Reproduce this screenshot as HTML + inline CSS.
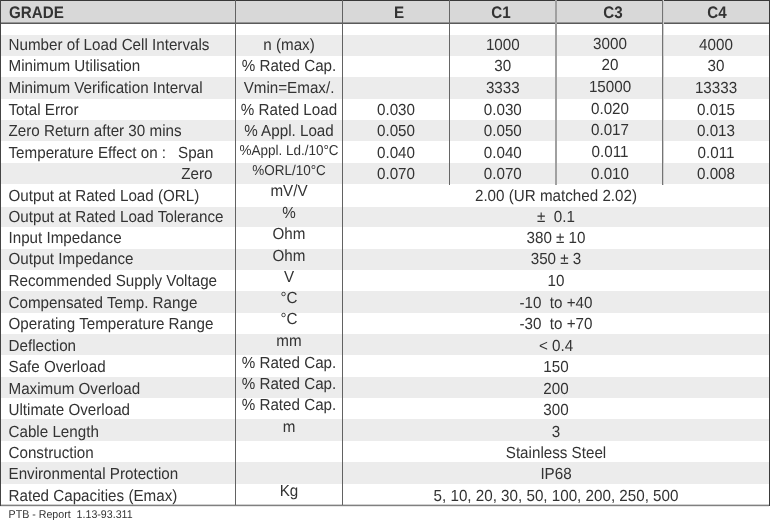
<!DOCTYPE html>
<html><head><meta charset="utf-8"><style>
html,body{margin:0;padding:0;background:#fff;}
body{width:770px;height:520px;position:relative;overflow:hidden;font-family:"Liberation Sans",sans-serif;}
#w{position:absolute;left:0;top:0;width:770px;height:520px;filter:blur(0.4px);}
div,span{position:absolute;display:block;white-space:pre;}
span{text-rendering:geometricPrecision;}
</style></head><body><div id="w">
<div style="left:1px;top:1px;width:768px;height:22px;background:#d8d8d8"></div>
<div style="left:1px;top:35px;width:768px;height:21px;background:#ececec"></div>
<div style="left:1px;top:77px;width:768px;height:22px;background:#ececec"></div>
<div style="left:1px;top:120px;width:768px;height:21px;background:#ececec"></div>
<div style="left:1px;top:163px;width:768px;height:21px;background:#ececec"></div>
<div style="left:1px;top:207px;width:768px;height:20px;background:#ececec"></div>
<div style="left:1px;top:249px;width:768px;height:21px;background:#ececec"></div>
<div style="left:1px;top:291px;width:768px;height:22px;background:#ececec"></div>
<div style="left:1px;top:334px;width:768px;height:21px;background:#ececec"></div>
<div style="left:1px;top:377px;width:768px;height:21px;background:#ececec"></div>
<div style="left:1px;top:419px;width:768px;height:22px;background:#ececec"></div>
<div style="left:1px;top:462px;width:768px;height:22px;background:#ececec"></div>
<div style="left:0px;top:0px;width:770px;height:1px;background:#383838"></div>
<div style="left:0px;top:22px;width:770px;height:1px;background:#959595"></div>
<div style="left:0px;top:23px;width:770px;height:1px;background:#5a5a5a"></div>
<div style="left:0px;top:504px;width:769px;height:1px;background:#d0d0d0"></div>
<div style="left:0px;top:505px;width:769px;height:1px;background:#808080"></div>
<div style="left:0px;top:506px;width:769px;height:1px;background:#e8e8e8"></div>
<div style="left:0px;top:0px;width:1px;height:506px;background:#444"></div>
<div style="left:769px;top:0px;width:1px;height:506px;background:#3a3a3a"></div>
<div style="left:235px;top:0px;width:1px;height:505px;background:#626262"></div>
<div style="left:342px;top:0px;width:1px;height:505px;background:#626262"></div>
<div style="left:449px;top:0px;width:1px;height:185px;background:#666"></div>
<div style="left:555px;top:0px;width:2px;height:185px;background:#a0a0a0"></div>
<div style="left:662px;top:0px;width:1px;height:185px;background:#747474"></div>
<div style="left:663px;top:0px;width:1px;height:185px;background:#cfcfcf"></div>
<span style="left:9.00px;top:4.53px;width:440px;text-align:left;font-size:15.2px;line-height:18px;font-weight:bold;will-change:transform;color:#333;transform:scaleY(1.1);transform-origin:0 14.27px;">GRADE</span>
<span style="left:178.90px;top:4.53px;width:440px;text-align:center;font-size:15.2px;line-height:18px;font-weight:bold;will-change:transform;color:#333;transform:scaleY(1.1);transform-origin:0 14.27px;">E</span>
<span style="left:281.40px;top:4.53px;width:440px;text-align:center;font-size:15.2px;line-height:18px;font-weight:bold;will-change:transform;color:#333;transform:scaleY(1.1);transform-origin:0 14.27px;">C1</span>
<span style="left:393.30px;top:4.53px;width:440px;text-align:center;font-size:15.2px;line-height:18px;font-weight:bold;will-change:transform;color:#333;transform:scaleY(1.1);transform-origin:0 14.27px;">C3</span>
<span style="left:496.60px;top:4.53px;width:440px;text-align:center;font-size:15.2px;line-height:18px;font-weight:bold;will-change:transform;color:#333;transform:scaleY(1.1);transform-origin:0 14.27px;">C4</span>
<span style="left:8.50px;top:36.93px;width:440px;text-align:left;font-size:15.2px;line-height:18px;color:#333;transform:scaleY(1.06);transform-origin:0 14.27px;">Number of Load Cell Intervals</span>
<span style="left:69.00px;top:36.93px;width:440px;text-align:center;font-size:15.2px;line-height:18px;color:#333;transform:scaleY(1.06);transform-origin:0 14.27px;">n (max)</span>
<span style="left:282.80px;top:36.93px;width:440px;text-align:center;font-size:15.2px;line-height:18px;color:#333;transform:scaleY(1.06);transform-origin:0 14.27px;">1000</span>
<span style="left:390.00px;top:35.93px;width:440px;text-align:center;font-size:15.2px;line-height:18px;color:#333;transform:scaleY(1.06);transform-origin:0 14.27px;">3000</span>
<span style="left:496.00px;top:36.93px;width:440px;text-align:center;font-size:15.2px;line-height:18px;color:#333;transform:scaleY(1.06);transform-origin:0 14.27px;">4000</span>
<span style="left:8.50px;top:57.93px;width:440px;text-align:left;font-size:15.2px;line-height:18px;color:#333;transform:scaleY(1.06);transform-origin:0 14.27px;">Minimum Utilisation</span>
<span style="left:69.00px;top:57.93px;width:440px;text-align:center;font-size:15.2px;line-height:18px;color:#333;transform:scaleY(1.06);transform-origin:0 14.27px;">% Rated Cap.</span>
<span style="left:282.80px;top:57.93px;width:440px;text-align:center;font-size:15.2px;line-height:18px;color:#333;transform:scaleY(1.06);transform-origin:0 14.27px;">30</span>
<span style="left:390.00px;top:56.93px;width:440px;text-align:center;font-size:15.2px;line-height:18px;color:#333;transform:scaleY(1.06);transform-origin:0 14.27px;">20</span>
<span style="left:496.00px;top:57.93px;width:440px;text-align:center;font-size:15.2px;line-height:18px;color:#333;transform:scaleY(1.06);transform-origin:0 14.27px;">30</span>
<span style="left:8.50px;top:79.93px;width:440px;text-align:left;font-size:15.2px;line-height:18px;color:#333;transform:scaleY(1.06);transform-origin:0 14.27px;">Minimum Verification Interval</span>
<span style="left:69.00px;top:79.93px;width:440px;text-align:center;font-size:15.2px;line-height:18px;color:#333;transform:scaleY(1.06);transform-origin:0 14.27px;">Vmin=Emax/.</span>
<span style="left:282.80px;top:79.93px;width:440px;text-align:center;font-size:15.2px;line-height:18px;color:#333;transform:scaleY(1.06);transform-origin:0 14.27px;">3333</span>
<span style="left:390.00px;top:78.93px;width:440px;text-align:center;font-size:15.2px;line-height:18px;color:#333;transform:scaleY(1.06);transform-origin:0 14.27px;">15000</span>
<span style="left:496.00px;top:79.93px;width:440px;text-align:center;font-size:15.2px;line-height:18px;color:#333;transform:scaleY(1.06);transform-origin:0 14.27px;">13333</span>
<span style="left:8.50px;top:101.93px;width:440px;text-align:left;font-size:15.2px;line-height:18px;color:#333;transform:scaleY(1.06);transform-origin:0 14.27px;">Total Error</span>
<span style="left:69.00px;top:101.93px;width:440px;text-align:center;font-size:15.2px;line-height:18px;color:#333;transform:scaleY(1.06);transform-origin:0 14.27px;">% Rated Load</span>
<span style="left:176.00px;top:101.93px;width:440px;text-align:center;font-size:15.2px;line-height:18px;color:#333;transform:scaleY(1.06);transform-origin:0 14.27px;">0.030</span>
<span style="left:282.80px;top:101.93px;width:440px;text-align:center;font-size:15.2px;line-height:18px;color:#333;transform:scaleY(1.06);transform-origin:0 14.27px;">0.030</span>
<span style="left:390.00px;top:100.93px;width:440px;text-align:center;font-size:15.2px;line-height:18px;color:#333;transform:scaleY(1.06);transform-origin:0 14.27px;">0.020</span>
<span style="left:496.00px;top:101.93px;width:440px;text-align:center;font-size:15.2px;line-height:18px;color:#333;transform:scaleY(1.06);transform-origin:0 14.27px;">0.015</span>
<span style="left:8.50px;top:122.93px;width:440px;text-align:left;font-size:15.2px;line-height:18px;color:#333;transform:scaleY(1.06);transform-origin:0 14.27px;">Zero Return after 30 mins</span>
<span style="left:69.00px;top:122.93px;width:440px;text-align:center;font-size:15.2px;line-height:18px;color:#333;transform:scaleY(1.06);transform-origin:0 14.27px;">% Appl. Load</span>
<span style="left:176.00px;top:122.93px;width:440px;text-align:center;font-size:15.2px;line-height:18px;color:#333;transform:scaleY(1.06);transform-origin:0 14.27px;">0.050</span>
<span style="left:282.80px;top:122.93px;width:440px;text-align:center;font-size:15.2px;line-height:18px;color:#333;transform:scaleY(1.06);transform-origin:0 14.27px;">0.050</span>
<span style="left:390.00px;top:121.93px;width:440px;text-align:center;font-size:15.2px;line-height:18px;color:#333;transform:scaleY(1.06);transform-origin:0 14.27px;">0.017</span>
<span style="left:496.00px;top:122.93px;width:440px;text-align:center;font-size:15.2px;line-height:18px;color:#333;transform:scaleY(1.06);transform-origin:0 14.27px;">0.013</span>
<span style="left:8.50px;top:144.93px;width:440px;text-align:left;font-size:15.2px;line-height:18px;color:#333;transform:scaleY(1.06);transform-origin:0 14.27px;">Temperature Effect on :</span>
<span style="left:69.00px;top:143.12px;width:440px;text-align:center;font-size:13.5px;line-height:16px;color:#333;transform:scaleY(1.06);transform-origin:0 12.68px;">%Appl. Ld./10°C</span>
<span style="left:176.00px;top:144.93px;width:440px;text-align:center;font-size:15.2px;line-height:18px;color:#333;transform:scaleY(1.06);transform-origin:0 14.27px;">0.040</span>
<span style="left:282.80px;top:144.93px;width:440px;text-align:center;font-size:15.2px;line-height:18px;color:#333;transform:scaleY(1.06);transform-origin:0 14.27px;">0.040</span>
<span style="left:390.00px;top:143.93px;width:440px;text-align:center;font-size:15.2px;line-height:18px;color:#333;transform:scaleY(1.06);transform-origin:0 14.27px;">0.011</span>
<span style="left:496.00px;top:144.93px;width:440px;text-align:center;font-size:15.2px;line-height:18px;color:#333;transform:scaleY(1.06);transform-origin:0 14.27px;">0.011</span>
<span style="left:69.00px;top:163.12px;width:440px;text-align:center;font-size:13.5px;line-height:16px;color:#333;transform:scaleY(1.06);transform-origin:0 12.68px;">%ORL/10°C</span>
<span style="left:176.00px;top:165.93px;width:440px;text-align:center;font-size:15.2px;line-height:18px;color:#333;transform:scaleY(1.06);transform-origin:0 14.27px;">0.070</span>
<span style="left:282.80px;top:165.93px;width:440px;text-align:center;font-size:15.2px;line-height:18px;color:#333;transform:scaleY(1.06);transform-origin:0 14.27px;">0.070</span>
<span style="left:390.00px;top:165.93px;width:440px;text-align:center;font-size:15.2px;line-height:18px;color:#333;transform:scaleY(1.06);transform-origin:0 14.27px;">0.010</span>
<span style="left:496.00px;top:165.93px;width:440px;text-align:center;font-size:15.2px;line-height:18px;color:#333;transform:scaleY(1.06);transform-origin:0 14.27px;">0.008</span>
<span style="left:8.50px;top:187.93px;width:440px;text-align:left;font-size:15.2px;line-height:18px;color:#333;transform:scaleY(1.06);transform-origin:0 14.27px;">Output at Rated Load (ORL)</span>
<span style="left:69.00px;top:182.93px;width:440px;text-align:center;font-size:15.2px;line-height:18px;color:#333;transform:scaleY(1.06);transform-origin:0 14.27px;">mV/V</span>
<span style="left:336.00px;top:187.93px;width:440px;text-align:center;font-size:15.2px;line-height:18px;color:#333;transform:scaleY(1.06);transform-origin:0 14.27px;">2.00 (UR matched 2.02)</span>
<span style="left:8.50px;top:208.93px;width:440px;text-align:left;font-size:15.2px;line-height:18px;color:#333;transform:scaleY(1.06);transform-origin:0 14.27px;">Output at Rated Load Tolerance</span>
<span style="left:69.00px;top:204.93px;width:440px;text-align:center;font-size:15.2px;line-height:18px;color:#333;transform:scaleY(1.06);transform-origin:0 14.27px;">%</span>
<span style="left:336.00px;top:208.93px;width:440px;text-align:center;font-size:15.2px;line-height:18px;color:#333;transform:scaleY(1.06);transform-origin:0 14.27px;">±  0.1</span>
<span style="left:8.50px;top:229.93px;width:440px;text-align:left;font-size:15.2px;line-height:18px;color:#333;transform:scaleY(1.06);transform-origin:0 14.27px;">Input Impedance</span>
<span style="left:69.00px;top:225.93px;width:440px;text-align:center;font-size:15.2px;line-height:18px;color:#333;transform:scaleY(1.06);transform-origin:0 14.27px;">Ohm</span>
<span style="left:336.00px;top:229.93px;width:440px;text-align:center;font-size:15.2px;line-height:18px;color:#333;transform:scaleY(1.06);transform-origin:0 14.27px;">380 ± 10</span>
<span style="left:8.50px;top:250.93px;width:440px;text-align:left;font-size:15.2px;line-height:18px;color:#333;transform:scaleY(1.06);transform-origin:0 14.27px;">Output Impedance</span>
<span style="left:69.00px;top:247.93px;width:440px;text-align:center;font-size:15.2px;line-height:18px;color:#333;transform:scaleY(1.06);transform-origin:0 14.27px;">Ohm</span>
<span style="left:336.00px;top:250.93px;width:440px;text-align:center;font-size:15.2px;line-height:18px;color:#333;transform:scaleY(1.06);transform-origin:0 14.27px;">350 ± 3</span>
<span style="left:8.50px;top:272.93px;width:440px;text-align:left;font-size:15.2px;line-height:18px;color:#333;transform:scaleY(1.06);transform-origin:0 14.27px;">Recommended Supply Voltage</span>
<span style="left:69.00px;top:268.93px;width:440px;text-align:center;font-size:15.2px;line-height:18px;color:#333;transform:scaleY(1.06);transform-origin:0 14.27px;">V</span>
<span style="left:336.00px;top:272.93px;width:440px;text-align:center;font-size:15.2px;line-height:18px;color:#333;transform:scaleY(1.06);transform-origin:0 14.27px;">10</span>
<span style="left:8.50px;top:294.93px;width:440px;text-align:left;font-size:15.2px;line-height:18px;color:#333;transform:scaleY(1.06);transform-origin:0 14.27px;">Compensated Temp. Range</span>
<span style="left:69.00px;top:289.93px;width:440px;text-align:center;font-size:15.2px;line-height:18px;color:#333;transform:scaleY(1.06);transform-origin:0 14.27px;">°C</span>
<span style="left:336.00px;top:294.93px;width:440px;text-align:center;font-size:15.2px;line-height:18px;color:#333;transform:scaleY(1.06);transform-origin:0 14.27px;">-10  to +40</span>
<span style="left:8.50px;top:315.93px;width:440px;text-align:left;font-size:15.2px;line-height:18px;color:#333;transform:scaleY(1.06);transform-origin:0 14.27px;">Operating Temperature Range</span>
<span style="left:69.00px;top:310.93px;width:440px;text-align:center;font-size:15.2px;line-height:18px;color:#333;transform:scaleY(1.06);transform-origin:0 14.27px;">°C</span>
<span style="left:336.00px;top:315.93px;width:440px;text-align:center;font-size:15.2px;line-height:18px;color:#333;transform:scaleY(1.06);transform-origin:0 14.27px;">-30  to +70</span>
<span style="left:8.50px;top:337.93px;width:440px;text-align:left;font-size:15.2px;line-height:18px;color:#333;transform:scaleY(1.06);transform-origin:0 14.27px;">Deflection</span>
<span style="left:69.00px;top:332.93px;width:440px;text-align:center;font-size:15.2px;line-height:18px;color:#333;transform:scaleY(1.06);transform-origin:0 14.27px;">mm</span>
<span style="left:336.00px;top:337.93px;width:440px;text-align:center;font-size:15.2px;line-height:18px;color:#333;transform:scaleY(1.06);transform-origin:0 14.27px;">< 0.4</span>
<span style="left:8.50px;top:358.93px;width:440px;text-align:left;font-size:15.2px;line-height:18px;color:#333;transform:scaleY(1.06);transform-origin:0 14.27px;">Safe Overload</span>
<span style="left:69.00px;top:354.93px;width:440px;text-align:center;font-size:15.2px;line-height:18px;color:#333;transform:scaleY(1.06);transform-origin:0 14.27px;">% Rated Cap.</span>
<span style="left:336.00px;top:358.93px;width:440px;text-align:center;font-size:15.2px;line-height:18px;color:#333;transform:scaleY(1.06);transform-origin:0 14.27px;">150</span>
<span style="left:8.50px;top:380.93px;width:440px;text-align:left;font-size:15.2px;line-height:18px;color:#333;transform:scaleY(1.06);transform-origin:0 14.27px;">Maximum Overload</span>
<span style="left:69.00px;top:375.93px;width:440px;text-align:center;font-size:15.2px;line-height:18px;color:#333;transform:scaleY(1.06);transform-origin:0 14.27px;">% Rated Cap.</span>
<span style="left:336.00px;top:380.93px;width:440px;text-align:center;font-size:15.2px;line-height:18px;color:#333;transform:scaleY(1.06);transform-origin:0 14.27px;">200</span>
<span style="left:8.50px;top:401.93px;width:440px;text-align:left;font-size:15.2px;line-height:18px;color:#333;transform:scaleY(1.06);transform-origin:0 14.27px;">Ultimate Overload</span>
<span style="left:69.00px;top:396.93px;width:440px;text-align:center;font-size:15.2px;line-height:18px;color:#333;transform:scaleY(1.06);transform-origin:0 14.27px;">% Rated Cap.</span>
<span style="left:336.00px;top:401.93px;width:440px;text-align:center;font-size:15.2px;line-height:18px;color:#333;transform:scaleY(1.06);transform-origin:0 14.27px;">300</span>
<span style="left:8.50px;top:423.93px;width:440px;text-align:left;font-size:15.2px;line-height:18px;color:#333;transform:scaleY(1.06);transform-origin:0 14.27px;">Cable Length</span>
<span style="left:69.00px;top:418.93px;width:440px;text-align:center;font-size:15.2px;line-height:18px;color:#333;transform:scaleY(1.06);transform-origin:0 14.27px;">m</span>
<span style="left:336.00px;top:423.93px;width:440px;text-align:center;font-size:15.2px;line-height:18px;color:#333;transform:scaleY(1.06);transform-origin:0 14.27px;">3</span>
<span style="left:8.50px;top:444.93px;width:440px;text-align:left;font-size:15.2px;line-height:18px;color:#333;transform:scaleY(1.06);transform-origin:0 14.27px;">Construction</span>
<span style="left:336.00px;top:444.93px;width:440px;text-align:center;font-size:15.2px;line-height:18px;color:#333;transform:scaleY(1.06);transform-origin:0 14.27px;">Stainless Steel</span>
<span style="left:8.50px;top:465.93px;width:440px;text-align:left;font-size:15.2px;line-height:18px;color:#333;transform:scaleY(1.06);transform-origin:0 14.27px;">Environmental Protection</span>
<span style="left:336.00px;top:465.93px;width:440px;text-align:center;font-size:15.2px;line-height:18px;color:#333;transform:scaleY(1.06);transform-origin:0 14.27px;">IP68</span>
<span style="left:8.50px;top:487.93px;width:440px;text-align:left;font-size:15.2px;line-height:18px;color:#333;transform:scaleY(1.06);transform-origin:0 14.27px;">Rated Capacities (Emax)</span>
<span style="left:69.00px;top:482.93px;width:440px;text-align:center;font-size:15.2px;line-height:18px;color:#333;transform:scaleY(1.06);transform-origin:0 14.27px;">Kg</span>
<span style="left:336.00px;top:487.93px;width:440px;text-align:center;font-size:15.2px;line-height:18px;color:#333;transform:scaleY(1.06);transform-origin:0 14.27px;">5, 10, 20, 30, 50, 100, 200, 250, 500</span>
<span style="left:-226.50px;top:144.93px;width:440px;text-align:right;font-size:15.2px;line-height:18px;color:#333;transform:scaleY(1.06);transform-origin:0 14.27px;">Span</span>
<span style="left:-227.50px;top:165.93px;width:440px;text-align:right;font-size:15.2px;line-height:18px;color:#333;transform:scaleY(1.06);transform-origin:0 14.27px;">Zero</span>
<span style="left:8.60px;top:508.81px;width:440px;text-align:left;font-size:10.65px;line-height:13px;color:#333;transform:scaleY(1.06);transform-origin:0 10.19px;">PTB - Report  1.13-93.311</span>
</div></body></html>
